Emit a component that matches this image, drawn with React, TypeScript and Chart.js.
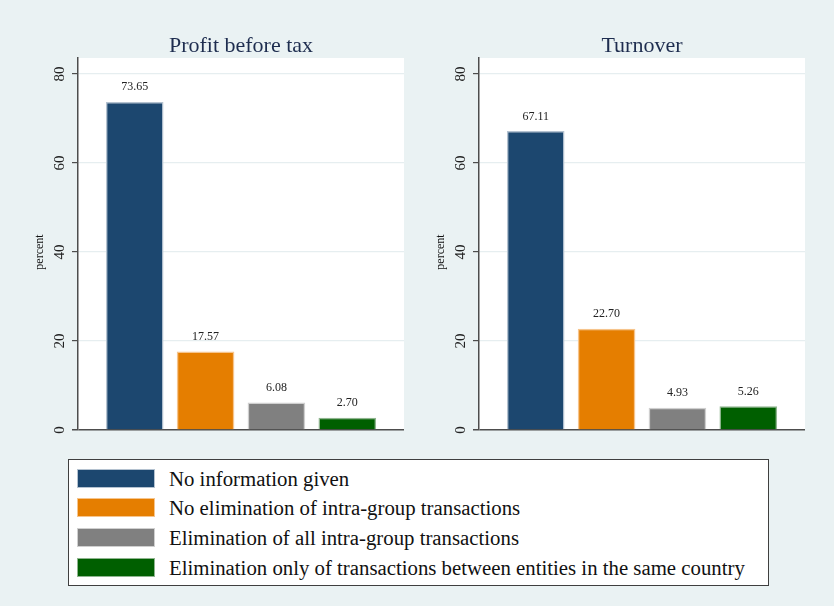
import React, { useEffect, useRef } from "react";
import { Chart, registerables } from "chart.js";

Chart.register(...registerables);

const categories = [
  "No information given",
  "No elimination of intra-group transactions",
  "Elimination of all intra-group transactions",
  "Elimination only of transactions between entities in the same country",
];
const panelTitles = ["Profit before tax", "Turnover"];
const profitValues = [73.65, 17.57, 6.08, 2.7];
const turnoverValues = [67.11, 22.7, 4.93, 5.26];
const yTicks = [0, 20, 40, 60, 80];
const yAxisTitle = "percent";

const barColors = ["#1c476f", "#e57e00", "#808080", "#005f00"];
const barBorders = ["#b4c2d0", "#f6c48c", "#cfcfcf", "#8fb58f"];

const BG = "#eaf2f3";
const FONT = "'Liberation Serif', 'Times New Roman', serif";

const panelPlugin = {
  id: "panelPlugin",
  beforeDraw(chart: any) {
    const { ctx, chartArea } = chart;
    ctx.save();
    ctx.fillStyle = "#ffffff";
    ctx.fillRect(chartArea.left, chartArea.top, chartArea.right - chartArea.left, chartArea.bottom - chartArea.top);
    ctx.restore();
  },
  afterDraw(chart: any) {
    const { ctx } = chart;
    const y = chart.scales.y;
    ctx.save();
    // rotated y tick labels
    ctx.fillStyle = "#222222";
    ctx.font = `15px ${FONT}`;
    ctx.textAlign = "center";
    ctx.textBaseline = "middle";
    for (const t of y.ticks) {
      const py = y.getPixelForValue(t.value);
      ctx.save();
      ctx.translate(y.right - 18, py);
      ctx.rotate(-Math.PI / 2);
      ctx.fillText(String(t.value), 0, 0);
      ctx.restore();
    }
    // axis title
    ctx.font = `12px ${FONT}`;
    const midY = (y.getPixelForValue(yTicks[0]) + y.getPixelForValue(yTicks[yTicks.length - 1])) / 2;
    ctx.save();
    ctx.translate(y.right - 38, midY);
    ctx.rotate(-Math.PI / 2);
    ctx.fillStyle = "#111111";
    ctx.fillText(yAxisTitle, 0, 0);
    ctx.restore();
    // value labels
    const meta = chart.getDatasetMeta(0);
    const values = chart.data.datasets[0].data;
    ctx.font = `12px ${FONT}`;
    ctx.fillStyle = "#222222";
    meta.data.forEach((bar: any, i: number) => {
      ctx.fillText(values[i].y.toFixed(2), bar.x, bar.y - 15);
    });
    ctx.restore();
  },
};

function Panel({ title, values, left }: { title: string; values: number[]; left: number }) {
  const ref = useRef<HTMLCanvasElement | null>(null);
  useEffect(() => {
    if (!ref.current) return;
    const chart = new Chart(ref.current, {
      type: "bar",
      data: {
        datasets: [
          {
            data: values.map((v, i) => ({ x: i + 1, y: v })),
            backgroundColor: barColors,
            borderColor: barBorders,
            borderWidth: 1.5,
            barThickness: 57,
          },
        ],
      },
      options: {
        responsive: false,
        animation: false,
        devicePixelRatio: 1,
        layout: { padding: { left: 0, right: 14, top: 0, bottom: 10 } },
        plugins: {
          legend: { display: false },
          tooltip: { enabled: false },
          title: {
            display: true,
            text: title,
            fullSize: false,
            color: "#1e2d4f",
            font: { family: FONT, size: 22, weight: "normal", lineHeight: 1 },
            padding: { top: 35, bottom: 1 },
          },
        },
        scales: {
          x: {
            type: "linear",
            min: 0.2,
            max: 4.8,
            offset: false,
            grid: { offset: false, display: false },
            display: false,
          },
          y: {
            min: 0,
            max: 83.6,
            afterFit(scale: any) {
              scale.width = 77;
            },
            afterBuildTicks(scale: any) {
              scale.ticks = yTicks.map((v) => ({ value: v }));
            },
            ticks: { display: false, includeBounds: false },
            grid: {
              color: (c: any) => (c.tick && c.tick.value === 0 ? "#4d4d4d" : "#e6eef0"),
              lineWidth: (c: any) => (c.tick && c.tick.value === 0 ? 1.5 : 1.2),
              tickColor: "#4d4d4d",
              tickLength: 6,
              drawTicks: true,
            },
            border: { display: true, color: "#4d4d4d", width: 1.5 },
          },
        },
      },
      plugins: [panelPlugin],
    } as any);
    return () => chart.destroy();
  }, [title, values]);
  return (
    <canvas
      ref={ref}
      width={417}
      height={440}
      style={{ position: "absolute", left, top: 0, width: 417, height: 440 }}
    />
  );
}

export default function App() {
  return (
    <div
      style={{
        position: "absolute",
        left: 0,
        top: 0,
        width: 834,
        height: 606,
        background: BG,
        overflow: "hidden",
        fontFamily: FONT,
      }}
    >
      <Panel title={panelTitles[0]} values={profitValues} left={1} />
      <Panel title={panelTitles[1]} values={turnoverValues} left={402} />
      <div
        style={{
          position: "absolute",
          left: 68,
          top: 459,
          width: 701,
          height: 127,
          boxSizing: "border-box",
          border: "1.5px solid #3f3f3f",
          background: "#ffffff",
        }}
      >
        {categories.map((c, i) => (
          <div
            key={c}
            style={{
              position: "absolute",
              left: 8,
              top: 8.5 + i * 29.7,
              height: 19,
              display: "flex",
              alignItems: "center",
              whiteSpace: "nowrap",
            }}
          >
            <div
              style={{
                width: 78,
                height: 19,
                boxSizing: "border-box",
                background: barColors[i],
                border: `1.5px solid ${barBorders[i]}`,
              }}
            />
            <span style={{ marginLeft: 14, fontSize: 20.8, color: "#111111", lineHeight: "19px" }}>{c}</span>
          </div>
        ))}
      </div>
    </div>
  );
}
